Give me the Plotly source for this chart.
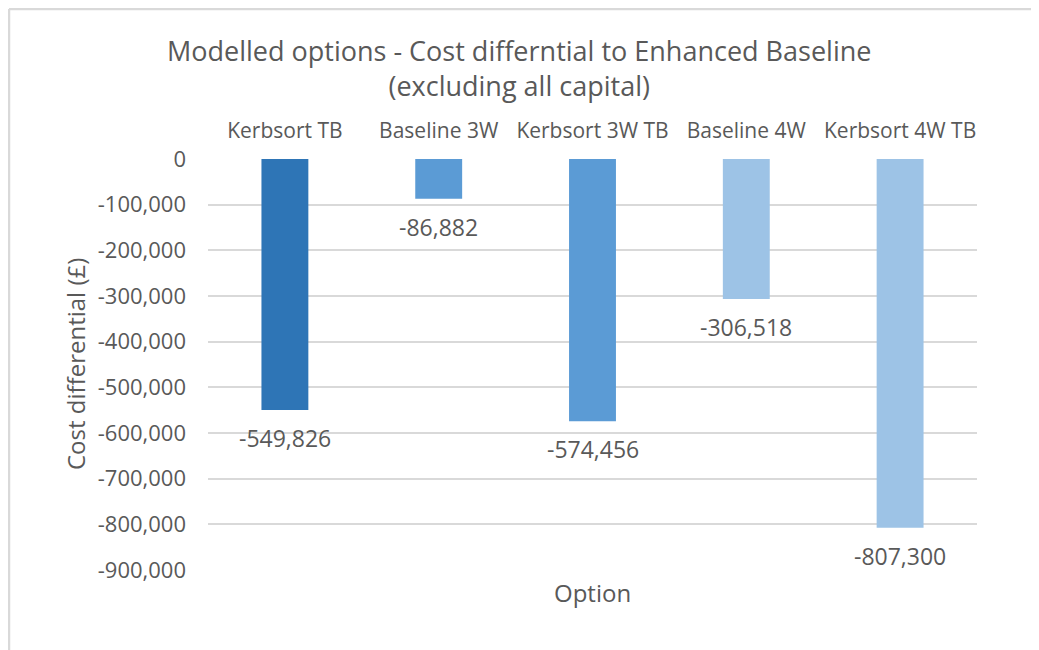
import plotly.graph_objects as go

categories = ["Kerbsort TB", "Baseline 3W", "Kerbsort 3W TB", "Baseline 4W", "Kerbsort 4W TB"]
values = [-549826, -86882, -574456, -306518, -807300]
colors = ["#2E75B6", "#5B9BD5", "#5B9BD5", "#9DC3E6", "#9DC3E6"]
tick_vals = [0, -100000, -200000, -300000, -400000, -500000, -600000, -700000, -800000, -900000]
tick_text = ["0", "-100,000", "-200,000", "-300,000", "-400,000", "-500,000",
             "-600,000", "-700,000", "-800,000", "-900,000"]

FONT = "Open Sans"
TXT = "#595959"
OFF = 8  # page body margin in the browser
W, H = 1039 - OFF, 650 - OFF
L, R, T, B = 208 - OFF, 977 - OFF, 159 - OFF, 570 - OFF
PW, PH = R - L, B - T

def px(x):
    return (x - OFF - L) / PW

def py(y):
    return (B - (y - OFF)) / PH

fig = go.Figure()
fig.add_trace(go.Bar(x=categories, y=values, marker_color=colors, width=0.305,
                     marker_line_width=0, hoverinfo="skip"))

for c, v in zip(categories, values):
    fig.add_annotation(x=c, y=v, text=f"{v:,}", showarrow=False, yanchor="top",
                       yshift=-10, font=dict(family=FONT, size=23, color=TXT))

fig.update_layout(
    width=W, height=H,
    margin=dict(l=L, r=W - R, t=T, b=H - B, autoexpand=False),
    paper_bgcolor="white", plot_bgcolor="white",
    showlegend=False,
    xaxis=dict(side="top", showgrid=False, showline=False, zeroline=False,
               ticks="", tickfont=dict(family=FONT, size=21, color=TXT),
               ticklabelstandoff=16, automargin=False, fixedrange=True),
    yaxis=dict(range=[-900000, 0], tickvals=tick_vals, ticktext=tick_text,
               showgrid=True, gridcolor="#D9D9D9", gridwidth=2, zeroline=False,
               showline=False, ticks="", ticklabelstandoff=21,
               tickfont=dict(family=FONT, size=22, color=TXT),
               automargin=False, fixedrange=True),
)

fig.add_annotation(text="Modelled options - Cost differntial to Enhanced Baseline<br>(excluding all capital)",
                   xref="paper", yref="paper", x=px(519), y=py(68), xanchor="center", yanchor="middle",
                   showarrow=False, align="center",
                   font=dict(family=FONT, size=27, color=TXT))
fig.add_annotation(text="Option", xref="paper", yref="paper", x=px(592), y=py(592),
                   yanchor="middle", showarrow=False, font=dict(family=FONT, size=24, color=TXT))
fig.add_annotation(text="Cost differential (£)", xref="paper", yref="paper", x=px(75), y=py(364),
                   xanchor="center", yanchor="middle", textangle=-90, showarrow=False,
                   font=dict(family=FONT, size=24, color=TXT))

# chart area border (left and top visible)
x0, y0 = px(9), py(9)
x1, y1 = px(1039), py(650)
fig.add_shape(type="line", xref="paper", yref="paper", x0=x0, x1=x0, y0=y1, y1=y0,
              line=dict(color="#D9D9D9", width=2.5))
fig.add_shape(type="line", xref="paper", yref="paper", x0=x0, x1=x1, y0=y0, y1=y0,
              line=dict(color="#D9D9D9", width=2.5))

fig.write_html("out.html", config={"displayModeBar": False})
